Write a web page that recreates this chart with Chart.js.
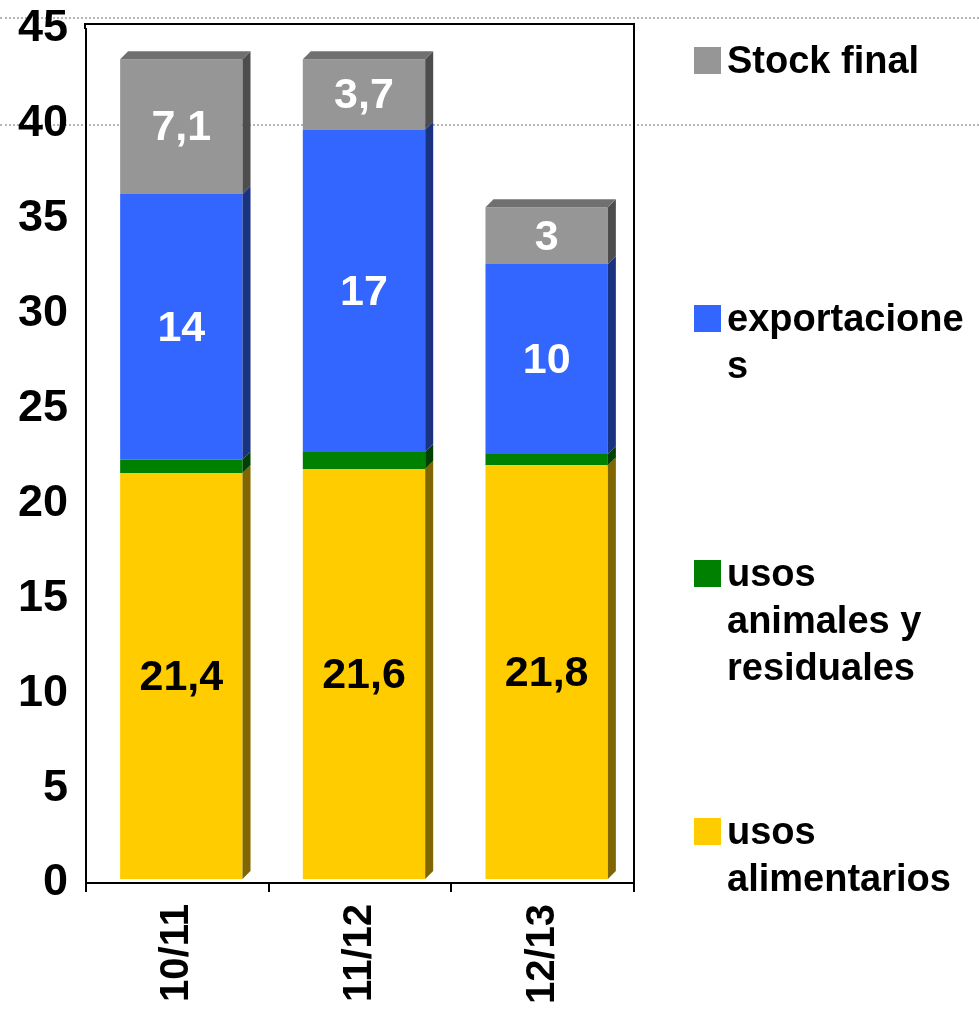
<!DOCTYPE html>
<html>
<head>
<meta charset="utf-8">
<script src="https://cdn.jsdelivr.net/npm/chart.js@4.4.0/dist/chart.umd.min.js"></script>
<style>
  body { margin: 0; background: #fff; }
  #wrap { position: relative; width: 979px; height: 1017px; overflow: hidden; font-family: 'Liberation Sans', Arial, sans-serif; }
  .dots { position: absolute; left: 0; width: 979px; height: 0; border-top: 2px dotted #b5b5b5; }
  canvas { position: absolute; left: 0; top: 0; }
  .leg { position: absolute; left: 694px; font-weight: bold; font-size: 38px; line-height: 47px; color: #000; white-space: nowrap; }
  .leg i { position: absolute; left: 0; top: 10px; width: 27px; height: 27px; }
  .leg span { display: block; margin-left: 33px; }
</style>
</head>
<body>
<div id="wrap">
  <div class="dots" style="top:17px"></div>
  <div class="dots" style="top:124px"></div>
  <canvas id="chart" width="979" height="1017"></canvas>
  <div id="legend"></div>
</div>
<script>
// data
const categories = ['10/11', '11/12', '12/13'];
const usosAlimentarios = [21.4, 21.6, 21.8];
const usosAnimales = [0.7, 0.9, 0.6];
const exportaciones = [14, 17, 10];
const stockFinal = [7.1, 3.7, 3];
const seriesNames = ['usos alimentarios', 'usos animales y residuales', 'exportaciones', 'Stock final'];
// legend text as it wraps in the original
const legendText = ['usos\nalimentarios', 'usos\nanimales y\nresiduales', 'exportacione\ns', 'Stock final'];

const FONT = "'Liberation Sans', Arial, sans-serif";
const DEPTH = 8;   // 3d side depth
const FLOOR = 4;   // front face offset from the axis
const BOX_EXTRA = 5; // plot box rises a bit above the 45 tick
const frontColors = ['#FFCC00', '#008000', '#3366FF', '#969696'];
const sideColors = ['#806600', '#004000', '#1A3380', '#4D4D4D'];
const topColor = '#707070';
const labelColors = ['#000', null, '#fff', '#fff'];
const legendTops = [808, 550, 295, 37];

// draws the side / top faces and the value labels on the bars
const bars3d = {
    id: 'bars3d',
    beforeDatasetsDraw(chart) {
        chart.ctx.save();
        chart.ctx.translate(FLOOR, -FLOOR);
    },
    afterDatasetsDraw(chart) {
        const ctx = chart.ctx;
        const last = chart.data.datasets.length - 1;
        chart.data.datasets.forEach((ds, i) => {
            chart.getDatasetMeta(i).data.forEach(bar => {
                const p = bar.getProps(['x', 'y', 'base', 'width'], true);
                const l = p.x - p.width / 2;
                const r = p.x + p.width / 2;
                ctx.fillStyle = sideColors[i];
                ctx.beginPath();
                ctx.moveTo(r, p.y);
                ctx.lineTo(r + DEPTH, p.y - DEPTH);
                ctx.lineTo(r + DEPTH, p.base - DEPTH);
                ctx.lineTo(r, p.base);
                ctx.closePath();
                ctx.fill();
                if (i === last) {
                    ctx.fillStyle = topColor;
                    ctx.beginPath();
                    ctx.moveTo(l, p.y);
                    ctx.lineTo(l + DEPTH, p.y - DEPTH);
                    ctx.lineTo(r + DEPTH, p.y - DEPTH);
                    ctx.lineTo(r, p.y);
                    ctx.closePath();
                    ctx.fill();
                }
            });
        });

        // value labels
        ctx.font = 'bold 43px ' + FONT;
        ctx.textAlign = 'center';
        ctx.textBaseline = 'middle';
        chart.data.datasets.forEach((ds, i) => {
            if (!labelColors[i]) return;
            ctx.fillStyle = labelColors[i];
            chart.getDatasetMeta(i).data.forEach((bar, j) => {
                const p = bar.getProps(['x', 'y', 'base'], true);
                const txt = String(ds.data[j]).replace('.', ',');
                ctx.fillText(txt, p.x, (p.y + p.base) / 2 + 2);
            });
        });
        ctx.restore();
    }
};

// top, right and upper-left edges of the plot box
const frame = {
    id: 'frame',
    afterDraw(chart) {
        const {ctx, chartArea: a} = chart;
        const top = a.top - BOX_EXTRA;
        ctx.save();
        ctx.strokeStyle = '#000';
        ctx.lineWidth = 2;
        ctx.beginPath();
        ctx.moveTo(a.left - 1, a.top);
        ctx.lineTo(a.left - 1, top);
        ctx.lineTo(a.right, top);
        ctx.lineTo(a.right, a.bottom);
        ctx.stroke();
        ctx.restore();
    }
};

const seriesData = [usosAlimentarios, usosAnimales, exportaciones, stockFinal];

const chart = new Chart(document.getElementById('chart'), {
    type: 'bar',
    data: {
        labels: categories,
        datasets: seriesData.map((d, i) => ({
            label: seriesNames[i],
            data: d,
            backgroundColor: frontColors[i],
            borderWidth: 0,
            categoryPercentage: 1,
            barPercentage: 0.67
        }))
    },
    options: {
        responsive: false,
        animation: false,
        layout: { padding: { top: 29, right: 345, left: 0, bottom: 0 } },
        plugins: {
            legend: { display: false },
            tooltip: { enabled: false }
        },
        scales: {
            x: {
                stacked: true,
                grid: { display: true, drawOnChartArea: false, drawTicks: true, tickLength: 9, color: '#000', lineWidth: 2, offset: true },
                border: { display: true, color: '#000', width: 2 },
                ticks: {
                    color: '#000',
                    font: { family: FONT, size: 40, weight: 'bold', lineHeight: 1 },
                    minRotation: 90,
                    maxRotation: 90,
                    padding: 12,
                    autoSkip: false
                },
                afterFit(scale) { scale.height = 134; }
            },
            y: {
                stacked: true,
                min: 0,
                max: 45,
                grid: { display: false, drawTicks: false },
                border: { display: true, color: '#000', width: 2 },
                ticks: {
                    stepSize: 5,
                    color: '#000',
                    font: { family: FONT, size: 45, weight: 'bold', lineHeight: 1 },
                    padding: 18
                },
                afterFit(scale) {
                    scale.width = 86;
                    scale.paddingTop = 0;
                    scale.paddingBottom = 0;
                }
            }
        }
    },
    plugins: [bars3d, frame]
});

// legend on the right, top entry = last series
const legend = document.getElementById('legend');
chart.data.datasets.forEach((ds, i) => {
    const item = document.createElement('div');
    item.className = 'leg';
    item.style.top = legendTops[i] + 'px';
    const sw = document.createElement('i');
    sw.style.background = ds.backgroundColor;
    const txt = document.createElement('span');
    txt.innerHTML = legendText[i].split('\n').join('<br>');
    item.appendChild(sw);
    item.appendChild(txt);
    legend.appendChild(item);
});
</script>
</body>
</html>
